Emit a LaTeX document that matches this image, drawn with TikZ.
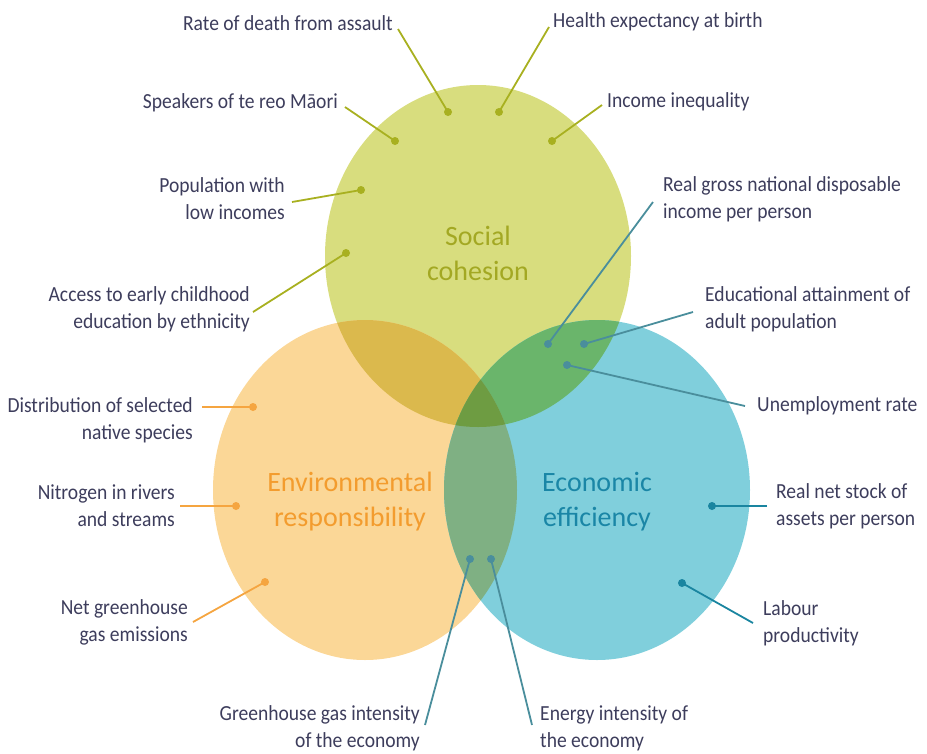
\documentclass[tikz,border=0pt]{standalone}
\usepackage{fontspec}
\setmainfont{Carlito}
\newfontfamily\lblfont{Carlito}[FakeStretch=0.91]
\begin{document}
\begin{tikzpicture}[x=1pt,y=-1pt,
  lbl/.style={inner sep=0pt, text=txt, font=\lblfont\fontsize{21.5}{27}\selectfont},
  lblL/.style={lbl, anchor=east, align=right},
  lblR/.style={lbl, anchor=west, align=left},
  ttl/.style={inner sep=0pt, align=center, font=\fontsize{28}{35}\selectfont},
  dotbase/.style={circle, inner sep=0pt, minimum size=8pt},
  dotS/.style={dotbase, fill=lnS},
  dotE/.style={dotbase, fill=lnE},
  dotC/.style={dotbase, fill=lnC},
  dotX/.style={dotbase, fill=lnX},
  conS/.style={draw=lnS, line width=1.8pt},
  conE/.style={draw=lnE, line width=1.8pt},
  conC/.style={draw=lnC, line width=1.8pt},
  conX/.style={draw=lnX, line width=1.8pt},
]
\definecolor{txt}{HTML}{3D3D5C}
\definecolor{fS}{HTML}{D8DD7E}
\definecolor{fE}{HTML}{FBD797}
\definecolor{fC}{HTML}{80CFDC}
\definecolor{fSE}{HTML}{DBB94D}
\definecolor{fSC}{HTML}{6AB56B}
\definecolor{fEC}{HTML}{7FB083}
\definecolor{fSEC}{HTML}{6E9C42}
\definecolor{lnS}{HTML}{A8B020}
\definecolor{lnE}{HTML}{F5A540}
\definecolor{lnC}{HTML}{1A85A0}
\definecolor{lnX}{HTML}{4A8E9C}
\definecolor{tS}{HTML}{A3A823}
\definecolor{tE}{HTML}{F39C2E}
\definecolor{tC}{HTML}{1A86A6}

\useasboundingbox (0,0) rectangle (927,753);

\def\soc{(478,256) ellipse [x radius=153pt, y radius=171pt]}
\def\env{(365,490) ellipse [x radius=152pt, y radius=170pt]}
\def\eco{(597,490) ellipse [x radius=153pt, y radius=170pt]}

% three circles
\fill[fS] \soc;
\fill[fE] \env;
\fill[fC] \eco;
% pairwise overlaps
\begin{scope}\clip \soc; \fill[fSE] \env; \end{scope}
\begin{scope}\clip \soc; \fill[fSC] \eco; \end{scope}
\begin{scope}\clip \env; \fill[fEC] \eco; \end{scope}
% centre overlap
\begin{scope}\clip \soc; \clip \env; \fill[fSEC] \eco; \end{scope}

% circle titles
\node[ttl, text=tS] (tsoc) at (478,253) {Social\\cohesion};
\node[ttl, text=tE] (tenv) at (350,502) {Environmental\\responsibility};
\node[ttl, text=tC] (teco) at (597,502) {Economic\\efficiency};

% social cohesion indicators
\node[lblL] (l1) at (393,23) {Rate of death from assault};
\node[lblR] (l2) at (553,22) {Health expectancy at birth};
\node[lblL] (l3) at (338,103) {Speakers of te reo Māori};
\node[lblR] (l4) at (607,102) {Income inequality};
\node[lblL] (l5) at (285,199) {Population with\\low incomes};
\node[lblL] (l6) at (250,309) {Access to early childhood\\education by ethnicity};

\node[dotS] (d1) at (448,112) {};
\node[dotS] (d2) at (499,112) {};
\node[dotS] (d3) at (395,141) {};
\node[dotS] (d4) at (552,141) {};
\node[dotS] (d5) at (361,190) {};
\node[dotS] (d6) at (346,253) {};

\coordinate (e1) at (398,29);
\coordinate (e2) at (549,27);
\coordinate (e3) at (345,107);
\coordinate (e4) at (602,105);
\coordinate (e5) at (292,202);
\coordinate (e6) at (253,312);
\draw[conS] (e1) -- (d1.center);
\draw[conS] (e2) -- (d2.center);
\draw[conS] (e3) -- (d3.center);
\draw[conS] (e4) -- (d4.center);
\draw[conS] (e5) -- (d5.center);
\draw[conS] (e6) -- (d6.center);

% social / economic overlap indicators
\node[lblR] (l7) at (663,199) {Real gross national disposable\\income per person};
\node[lblR] (l8) at (705,309) {Educational attainment of\\adult population};
\node[lblR] (l9) at (757,406) {Unemployment rate};
\node[dotX] (d7) at (548,344) {};
\node[dotX] (d8) at (584,344) {};
\node[dotX] (d9) at (567,365) {};
\coordinate (e7) at (653,202);
\coordinate (e8) at (693,312);
\coordinate (e9) at (745,406);
\draw[conX] (e7) -- (d7.center);
\draw[conX] (e8) -- (d8.center);
\draw[conX] (e9) -- (d9.center);

% environmental indicators
\node[lblL] (l10) at (193,420) {Distribution of selected\\native species};
\node[lblL] (l11) at (175,506) {Nitrogen in rivers\\and streams};
\node[lblL] (l12) at (188,622) {Net greenhouse\\gas emissions};
\node[dotE] (d10) at (253,407) {};
\node[dotE] (d11) at (236,506) {};
\node[dotE] (d12) at (265,582) {};
\coordinate (e10) at (202,407);
\coordinate (e11) at (180,506);
\coordinate (e12) at (193,622);
\draw[conE] (e10) -- (d10.center);
\draw[conE] (e11) -- (d11.center);
\draw[conE] (e12) -- (d12.center);

% economic indicators
\node[lblR] (l13) at (776,506) {Real net stock of\\assets per person};
\node[lblR] (l14) at (763,623) {Labour\\productivity};
\node[dotC] (d13) at (712,506) {};
\node[dotC] (d14) at (682,583) {};
\coordinate (e13) at (767,506);
\coordinate (e14) at (753,623);
\draw[conC] (e13) -- (d13.center);
\draw[conC] (e14) -- (d14.center);

% environmental / economic overlap indicators
\node[lblL] (l15) at (420,728) {Greenhouse gas intensity\\of the economy};
\node[lblR] (l16) at (540,728) {Energy intensity of\\the economy};
\node[dotX] (d15) at (470,559) {};
\node[dotX] (d16) at (491,559) {};
\coordinate (e15) at (425,725);
\coordinate (e16) at (532,725);
\draw[conX] (e15) -- (d15.center);
\draw[conX] (e16) -- (d16.center);
\end{tikzpicture}
\end{document}
